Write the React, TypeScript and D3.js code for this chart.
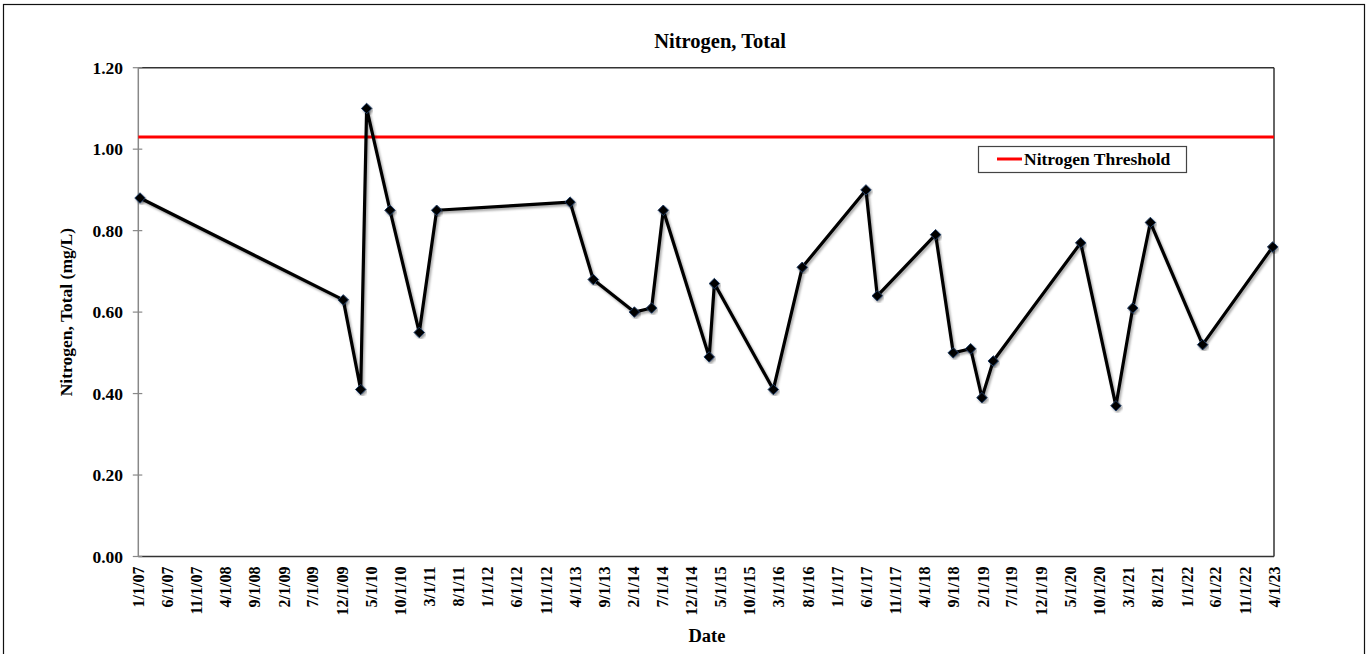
import React from "react";
import * as d3 from "d3";

const sampleDates: string[] = [
  "2007-01-10", "2009-12-07", "2010-03-08", "2010-04-08", "2010-08-08", "2011-01-08", "2011-04-09",
  "2013-03-06", "2013-07-05", "2014-02-05", "2014-05-06", "2014-07-06", "2015-03-03", "2015-03-30",
  "2016-02-01", "2016-07-01", "2017-05-30", "2017-07-28", "2018-05-29", "2018-08-29", "2018-11-28",
  "2019-01-26", "2019-03-26", "2020-06-25", "2020-12-26", "2021-03-24", "2021-06-24", "2022-03-24",
  "2023-03-25",
];
const nitrogenValues: number[] = [
  0.88, 0.63, 0.41, 1.10, 0.85, 0.55, 0.85,
  0.87, 0.68, 0.60, 0.61, 0.85, 0.49, 0.67,
  0.41, 0.71, 0.90, 0.64, 0.79, 0.50, 0.51,
  0.39, 0.48, 0.77, 0.37, 0.61, 0.82, 0.52,
  0.76,
];
const thresholdValue = 1.03;
const yTicks: number[] = [0, 0.2, 0.4, 0.6, 0.8, 1.0, 1.2];
const xStart = "2007-01-01";
const xEnd = "2023-04-01";
const tickMonthStep = 5;
const title = "Nitrogen, Total";
const yLabel = "Nitrogen, Total  (mg/L)";
const xLabel = "Date";
const legendLabel = "Nitrogen Threshold";

const W = 1366;
const H = 654;
const left = 138.3;
const right = 1274;
const top = 67.7;
const bottom = 556.5;
const FONT = "'Times New Roman', 'Liberation Serif', serif";

export default function App() {
  const parse = d3.utcParse("%Y-%m-%d");
  const x = d3
    .scaleUtc()
    .domain([parse(xStart)!, parse(xEnd)!])
    .range([left, right]);
  const y = d3.scaleLinear().domain([0, 1.2]).range([bottom, top]);

  const pts = sampleDates.map((d, i) => ({ date: parse(d)!, v: nitrogenValues[i] }));
  const line = d3
    .line<{ date: Date; v: number }>()
    .x((d) => x(d.date))
    .y((d) => y(d.v));

  const xTicks: Date[] = [];
  {
    let d = parse(xStart)!;
    const end = parse(xEnd)!;
    while (d <= end) {
      xTicks.push(d);
      d = d3.utcMonth.offset(d, tickMonthStep);
    }
  }
  const fmt = (d: Date) => `${d.getUTCMonth() + 1}/${d.getUTCDate()}/${String(d.getUTCFullYear()).slice(2)}`;
  const diamond = d3.symbol().type(d3.symbolDiamond2).size(70)();

  return (
    <svg
      width={W}
      height={H}
      style={{ position: "absolute", left: 0, top: 0, background: "#fff" }}
      fontFamily={FONT}
    >
      <defs>
        <filter id="shadow" x="-10%" y="-10%" width="120%" height="120%">
          <feDropShadow dx="1.5" dy="2" stdDeviation="1.2" floodColor="#000" floodOpacity="0.35" />
        </filter>
      </defs>
      <rect x={3.5} y={4.5} width={1361} height={H + 10} fill="#fff" stroke="#111" strokeWidth={1.2} />

      <text x={(left + right) / 2 + 14} y={48} textAnchor="middle" fontWeight="bold" fontSize={20.5}>
        {title}
      </text>

      {/* plot frame */}
      <line x1={left} y1={top} x2={right} y2={top} stroke="#333" strokeWidth={1.5} />
      <line x1={right} y1={top} x2={right} y2={bottom} stroke="#333" strokeWidth={1.5} />
      <line x1={left} y1={bottom} x2={right} y2={bottom} stroke="#333" strokeWidth={1.5} />
      <line x1={left} y1={top} x2={left} y2={bottom} stroke="#888" strokeWidth={1.5} />

      {yTicks.map((t) => (
        <g key={t}>
          <line x1={left - 5.5} x2={left + 4} y1={y(t)} y2={y(t)} stroke="#888" strokeWidth={1.2} />
          <text x={123} y={y(t)} dy="0.35em" textAnchor="end" fontWeight="bold" fontSize={17.5}>
            {t.toFixed(2)}
          </text>
        </g>
      ))}

      {xTicks.map((t, i) => (
        <text
          key={i}
          transform={`translate(${x(t)},${bottom + 10}) rotate(-90)`}
          dy="0.35em"
          textAnchor="end"
          fontWeight="bold"
          fontSize={16}
        >
          {fmt(t)}
        </text>
      ))}

      <text x={707} y={642} textAnchor="middle" fontWeight="bold" fontSize={18.5}>
        {xLabel}
      </text>
      <text
        transform={`translate(72,${(top + bottom) / 2}) rotate(-90)`}
        textAnchor="middle"
        fontWeight="bold"
        fontSize={17.5}
      >
        {yLabel}
      </text>

      {/* threshold */}
      <line
        x1={left}
        x2={right}
        y1={y(thresholdValue)}
        y2={y(thresholdValue)}
        stroke="#ff0000"
        strokeWidth={3}
      />

      {/* data */}
      <path d={line(pts) || ""} fill="none" stroke="#000" strokeWidth={3.2} strokeLinejoin="round" filter="url(#shadow)" />
      {pts.map((p, i) => (
        <path
          key={i}
          d={diamond || ""}
          transform={`translate(${x(p.date)},${y(p.v)})`}
          fill="#000"
          stroke="#1f3b63"
          strokeWidth={1}
          filter="url(#shadow)"
        />
      ))}

      {/* legend */}
      <rect x={978.5} y={146.5} width={208} height={26} fill="#fff" stroke="#444" strokeWidth={1.2} />
      <line x1={997} x2={1022} y1={159} y2={159} stroke="#ff0000" strokeWidth={3} />
      <text x={1024} y={159} dy="0.35em" fontWeight="bold" fontSize={17.5}>
        {legendLabel}
      </text>
    </svg>
  );
}
